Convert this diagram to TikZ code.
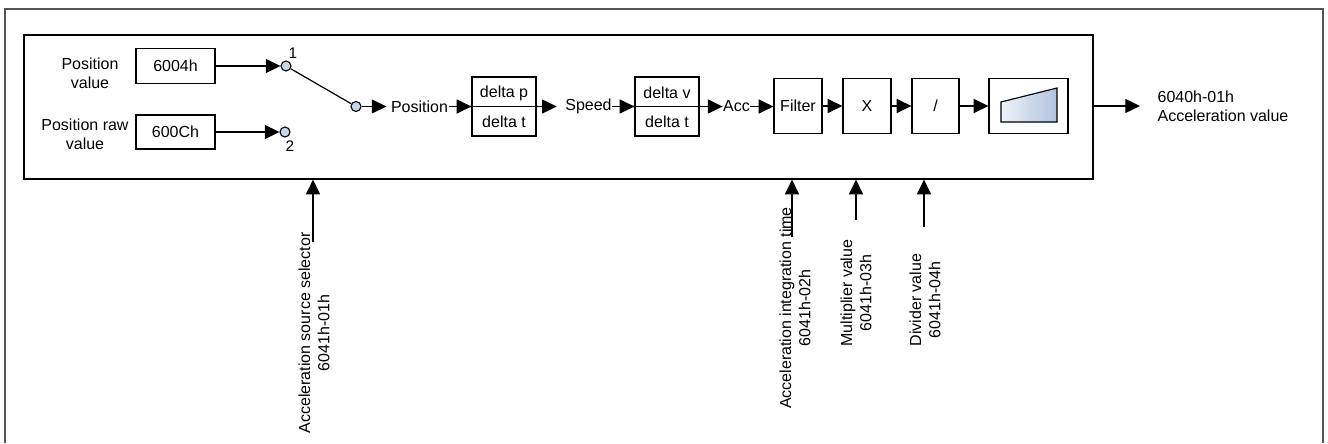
\documentclass[tikz,border=0pt]{standalone}
\usepackage{fontspec}
\setmainfont{Liberation Sans}
\usetikzlibrary{arrows.meta,calc}
\definecolor{pinfill}{HTML}{C9D7EA}
\definecolor{rampL}{HTML}{EEF2F8}
\definecolor{rampR}{HTML}{B0C3DE}
\definecolor{framec}{HTML}{555555}
\begin{document}
\begin{tikzpicture}[x=0.75pt,y=-0.75pt,
  font=\fontsize{12}{14.4}\selectfont,
  >={Triangle[length=11pt,width=10.5pt]},
  every path/.style={line width=0.9pt},
  blk/.style={draw,line width=0.9pt,inner sep=0pt,minimum width=#1},
  txt/.style={inner sep=0pt,align=center},
  pin/.style={circle,draw,fill=pinfill,inner sep=0pt,minimum size=7.5pt,line width=0.8pt},
  vlbl/.style={inner sep=0pt,align=center,rotate=90},
  flow/.style={->}]
\useasboundingbox (0,0) rectangle (1328,443);
% outer frame
\draw[framec,line width=1.2pt] (5,443) -- (5,9) -- (1323,9) -- (1323,443);
% inner box
\node[blk=801.75pt,minimum height=108pt] (inner) at (558.5,107) {};
% inputs
\node[txt] (pvT) at (90,73.5) {Position\\value};
\node[txt] (prT) at (85,134) {Position raw\\value};
\node[blk=59.25pt,minimum height=26.25pt] (b6004) at (175.5,66) {6004h};
\node[blk=59.25pt,minimum height=25.5pt] (b600C) at (175.5,132) {600Ch};
\node[pin] (sw1) at (286,66) {};
\node[pin] (sw2) at (285,132) {};
\node[pin] (swo) at (356,106.5) {};
\node[inner sep=0pt,font=\fontsize{11.5}{13}\selectfont] (n1) at (293,53) {1};
\node[inner sep=0pt,font=\fontsize{11.5}{13}\selectfont] (n2) at (290,146) {2};
\draw[flow] (b6004.east) -- (sw1.west);
\draw[flow] (b600C.east) -- (sw2.west);
\draw (sw1) -- (swo);
% chain
\node[txt] (posT) at (419.5,106.5) {Position};
\draw[flow] (swo.east) -- ([xshift=-3pt]posT.west);
\node[blk=48pt,minimum height=44.25pt] (dp) at (504,106.5) {};
\draw (dp.west) -- (dp.east);
\node[txt] (dpT) at (504,93) {delta p};
\node[txt] (dtT1) at (504,121.5) {delta t};
\draw[flow] (posT.east) -- (dp.west);
\node[txt] (spT) at (588.5,106.5) {Speed};
\draw[flow,shorten >=6pt] (dp.east) -- (spT.west);
\node[blk=48pt,minimum height=44.25pt] (dv) at (667,106.5) {};
\draw (dv.west) -- (dv.east);
\node[txt] (dvT) at (667,93) {delta v};
\node[txt] (dtT2) at (667,121.5) {delta t};
\draw[flow] (spT.east) -- (dv.west);
\foreach \n in {dp,dv}{\fill (\n.west) circle (1.1pt); \fill (\n.east) circle (1.1pt);}
\node[txt] (accT) at (736.5,106.5) {Acc};
\draw[flow] (dv.east) -- (accT.west);
\node[blk=36pt,minimum height=41.25pt] (filt) at (798,106) {Filter};
\draw[flow] (accT.east) -- (accT.east -| filt.west);
\node[blk=36pt,minimum height=41.25pt] (mul) at (867,106) {X};
\draw[flow] (filt.east) -- (mul.west);
\node[blk=35.25pt,minimum height=41.25pt] (dvd) at (935.5,106) {/};
\draw[flow] (mul.east) -- (dvd.west);
\node[blk=59.25pt,minimum height=41.25pt] (ramp) at (1028.5,106) {};
\draw[flow] (dvd.east) -- (ramp.west);
\draw[left color=rampL,right color=rampR,line width=0.9pt] (1001,122) -- (1001,102) -- (1057,88) -- (1057,122) -- cycle;
% output
\node[inner sep=0pt,align=left,anchor=west] (outT) at (1157,106.5) {6040h-01h\\Acceleration value};
\coordinate (outEnd) at (1140,106);
\draw[flow] (inner.east |- outEnd) -- (outEnd);
% bottom parameter inputs
\node[vlbl] (selT) at (314,333) {Acceleration source selector\\6041h-01h};
\coordinate (selS) at (313,242);
\draw[flow] (selS) -- (selS |- inner.south);
\node[vlbl] (aitT) at (795,308) {Acceleration integration time\\6041h-02h};
\coordinate (aitS) at (792,237);
\draw[flow] (aitS) -- (aitS |- inner.south);
\node[vlbl] (mvT) at (856,293) {Multiplier value\\6041h-03h};
\coordinate (mvS) at (856,220);
\draw[flow] (mvS) -- (mvS |- inner.south);
\node[vlbl] (dvT2) at (925,300) {Divider value\\6041h-04h};
\coordinate (dvS) at (924,227);
\draw[flow] (dvS) -- (dvS |- inner.south);
\end{tikzpicture}
\end{document}
